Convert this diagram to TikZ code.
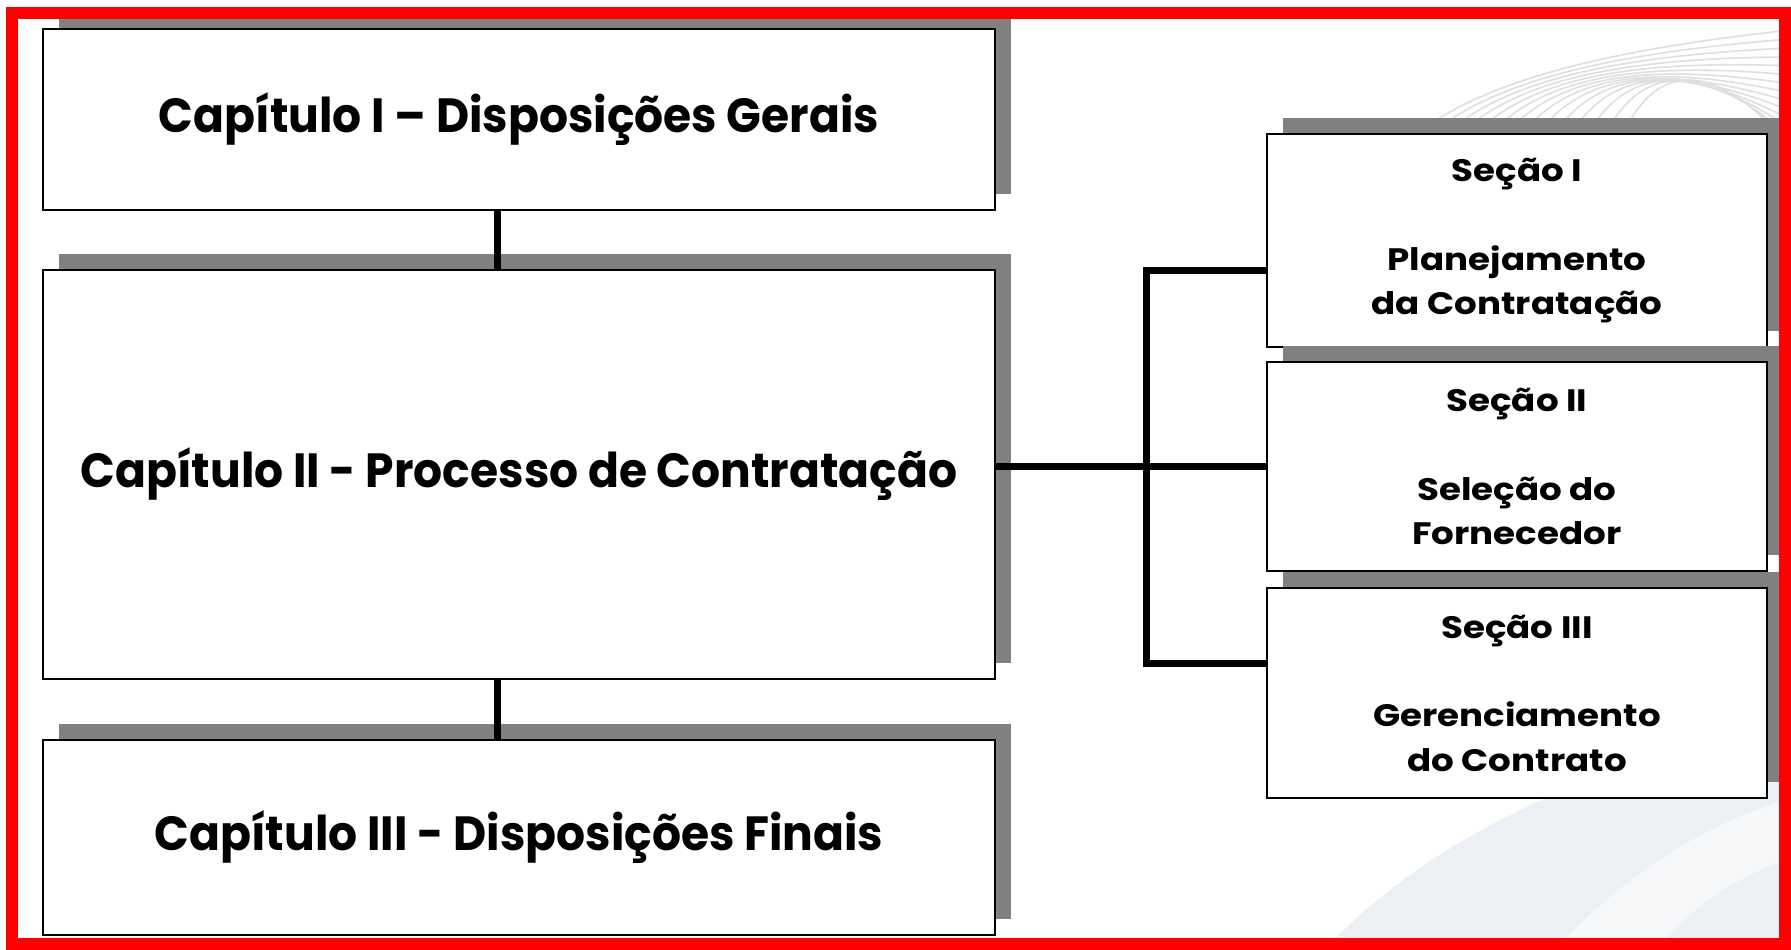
\documentclass[tikz,border=0pt]{standalone}
\usepackage{fontspec}
\setmainfont{Poppins}
\newfontfamily\chapfont{Poppins}[FakeStretch=0.95]
\newfontfamily\secfont{Poppins}[FakeStretch=1.15]
\usetikzlibrary{shadows,calc}
\definecolor{shadowgray}{RGB}{128,128,128}
\definecolor{framered}{RGB}{255,0,0}
\definecolor{swoosh}{RGB}{222,227,234}
\tikzset{
  chapbox/.style={draw=black, line width=2pt, fill=white, anchor=north west,
    inner sep=0pt, font=\chapfont\fontsize{48}{54}\selectfont\bfseries,
    general shadow={fill=shadowgray, shadow xshift=16pt, shadow yshift=16pt}},
  secbox/.style={draw=black, line width=2pt, fill=white, anchor=north west,
    inner sep=0pt, align=center, font=\secfont\fontsize{31}{44.3}\selectfont\bfseries,
    minimum width=500pt,
    general shadow={fill=shadowgray, shadow xshift=16pt, shadow yshift=16pt}},
  conn/.style={draw=black, line width=7pt},
  bgline/.style={draw=gray!25, line width=1.6pt}
}
\begin{document}
\begin{tikzpicture}[x=1pt,y=-1pt]
\useasboundingbox (0,0) rectangle (1791,950);
\fill[white] (0,0) rectangle (1791,950);
% faint background decoration
\foreach \i in {0,...,13}{
  \draw[bgline] (1330+20*\i,340) .. controls (1335+20*\i,150-6*\i) and (1420+20*\i,70-4*\i) .. (1791,30+9*\i);
}
\fill[swoosh, opacity=0.55] (1330,944) .. controls (1450,820) and (1620,760) .. (1785,720) -- (1785,944) -- cycle;
\fill[white, opacity=0.5] (1560,944) .. controls (1640,860) and (1720,820) .. (1785,800) -- (1785,860) .. controls (1730,880) and (1690,910) .. (1660,944) -- cycle;

% chapter boxes
\node[chapbox, minimum width=952pt, minimum height=181pt] (c1) at (42,28) {Capítulo I – Disposições Gerais};
\node[chapbox, minimum width=952pt, minimum height=409pt] (c2) at (42,269) {Capítulo II - Processo de Contratação};
\node[chapbox, minimum width=952pt, minimum height=195pt] (c3) at (42,739) {Capítulo III - Disposições Finais};

% section boxes
\node[secbox, minimum height=213pt] (s1) at (1266,133) {Seção I\\\mbox{}\\Planejamento\\da Contratação};
\node[secbox, minimum height=209pt] (s2) at (1266,361) {Seção II\\\mbox{}\\Seleção do\\Fornecedor};
\node[secbox, minimum height=210pt] (s3) at (1266,587) {Seção III\\\mbox{}\\Gerenciamento\\do Contrato};

% connectors
\coordinate (b1) at (1146,270);
\coordinate (b2) at (1146,466);
\coordinate (b3) at (1146,663);
\draw[conn] ([xshift=-22pt]c1.south) -- ([xshift=-22pt]c2.north);
\draw[conn] ([xshift=-22pt]c2.south) -- ([xshift=-22pt]c3.north);
\draw[conn] (c2.east |- b2) -- (b2);
\draw[conn, line cap=rect] (b1) -- (b3);
\draw[conn] (b1) -- (s1.west |- b1);
\draw[conn] (b2) -- (s2.west |- b2);
\draw[conn] (b3) -- (s3.west |- b3);

% red frame
\draw[framered, line width=12pt] (12,13) rectangle (1785,944);
\end{tikzpicture}
\end{document}
